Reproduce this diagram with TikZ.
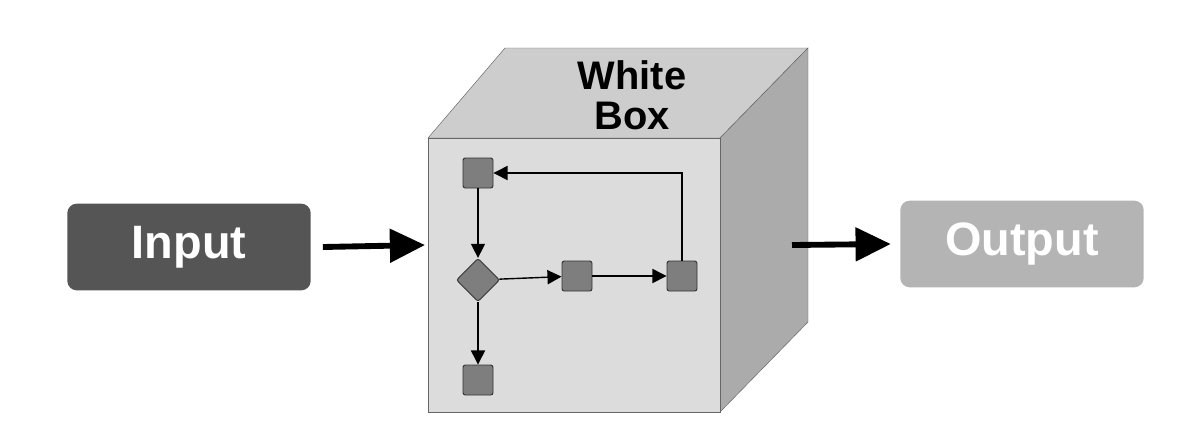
\documentclass[tikz,border=0pt]{standalone}
\usepackage{fontspec}
\setmainfont{Liberation Sans}
\usetikzlibrary{arrows.meta,shapes.geometric}
\definecolor{darkbox}{HTML}{555555}
\definecolor{lightbox}{HTML}{B4B4B4}
\definecolor{frontface}{HTML}{DCDCDC}
\definecolor{topface}{HTML}{CDCDCD}
\definecolor{sideface}{HTML}{ABABAB}
\definecolor{stepgray}{HTML}{7E7E7E}
\tikzset{
  iobox/.style={rounded corners=8pt,minimum width=7.3cm,minimum height=2.6cm,
    font=\fontsize{40}{44}\selectfont\bfseries,text=white},
  stepbox/.style={rectangle,rounded corners=2pt,draw=black!80,fill=stepgray,
    minimum size=0.9cm,line width=0.8pt},
  decision/.style={diamond,rounded corners=2pt,draw=black!80,fill=stepgray,
    minimum size=1.3cm,inner sep=0pt,line width=0.8pt},
  flow/.style={-{Triangle[length=12pt,width=12pt]},line width=1.2pt},
  bigflow/.style={-{Triangle[length=30pt,width=28pt]},line width=5pt}
}
\begin{document}
\begin{tikzpicture}[x=0.03cm,y=-0.03cm]
\useasboundingbox[fill=white] (0,0) rectangle (1200,435);
% cube
\fill[topface,draw=black!60] (428,138) -- (505,48) -- (808,48) -- (720,138) -- cycle;
\fill[sideface,draw=black!60] (720,138) -- (808,48) -- (808,322) -- (720,412) -- cycle;
\fill[frontface,draw=black!60] (428,138) rectangle (720,412);
\node[font=\fontsize{34}{38}\selectfont\bfseries,align=center] (title) at (632,95) {White\\[-4pt]Box};
% in / out
\node[iobox,fill=darkbox] (in) at (189,247) {Input};
\node[iobox,fill=lightbox] (out) at (1022,244) {Output};
\coordinate (inend) at (425,245);
\coordinate (outstart) at (792,245);
\draw[bigflow] (in.east) ++(12,0) -- (inend);
\draw[bigflow] (outstart) -- ([xshift=-8pt]out.west);
% inner flow
\node[stepbox] (s1) at (478,173) {};
\node[decision] (d1) at (478,280) {};
\node[stepbox] (s2) at (577,276) {};
\node[stepbox] (s3) at (682,276) {};
\node[stepbox] (s4) at (478,380) {};
\draw[flow] (s1) -- (d1);
\draw[flow] (d1) -- (s4);
\draw[flow] (d1) -- (s2);
\draw[flow] (s2) -- (s3);
\draw[flow] (s3) |- (s1);
\end{tikzpicture}
\end{document}
